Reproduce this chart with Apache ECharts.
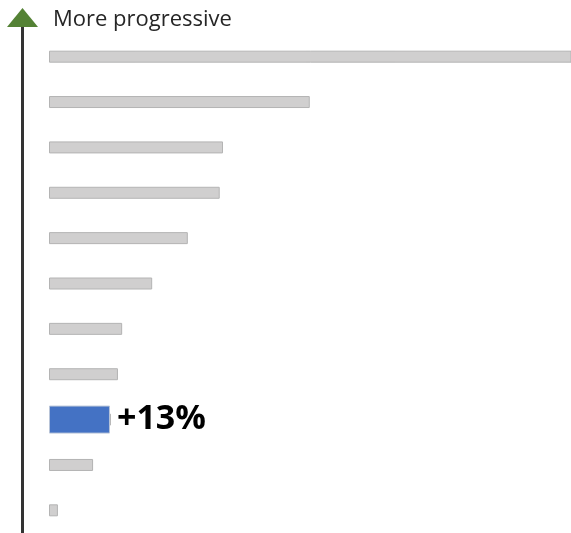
<!DOCTYPE html>
<html><head><meta charset="utf-8">
<script src="https://cdn.jsdelivr.net/npm/echarts@6/dist/echarts.min.js"></script>
<style>html,body{margin:0;padding:0;background:#fff}#c{width:571px;height:533px}</style>
</head><body><div id="c"></div>
<script>
const categories = ['A','B','C','D','E','F','G','H','I','J','K'];
const grayValues = [120, 55.6, 37.1, 36.4, 29.6, 22.0, 15.6, 14.7, 13.2, 9.4, 1.9];
const highlightValues = [null, null, null, null, null, null, null, null, 13, null, null];
const axisTitle = 'More progressive';

const chart = echarts.init(document.getElementById('c'), null, {renderer:'canvas'});
chart.setOption({
  animation:false,
  grid:{left:49, right:0, top:34, bottom:-2},
  xAxis:{type:'value', min:0, max:111.3, show:false},
  yAxis:[
    {type:'category', data:categories, inverse:true, show:false},
    {type:'category', data:categories, inverse:true, show:false}
  ],
  series:[
    {type:'bar', data:grayValues, barWidth:12, clip:true, yAxisIndex:0,
     itemStyle:{color:'#d0cfcf', borderColor:'#b4b4b4', borderWidth:1}, silent:true},
    {type:'bar', data:highlightValues, barWidth:28, yAxisIndex:1,
     itemStyle:{color:'#4472c4', borderColor:'#b8c4d8', borderWidth:1},
     label:{show:true, position:'right', distance:7, formatter:p=>'+'+p.value+'%',
       fontFamily:'Open Sans', fontWeight:'bold', fontSize:34, color:'#000'}}
  ],
  graphic:[
    {type:'rect', shape:{x:21, y:24, width:3, height:509}, style:{fill:'#333333'}},
    {type:'polygon', shape:{points:[[22.5,8],[7,27],[38,27]]}, style:{fill:'#548235'}},
    {type:'text', left:53, top:9, style:{text:axisTitle, fontFamily:'Open Sans', fontSize:22, fill:'#262626'}}
  ]
});
</script></body></html>
